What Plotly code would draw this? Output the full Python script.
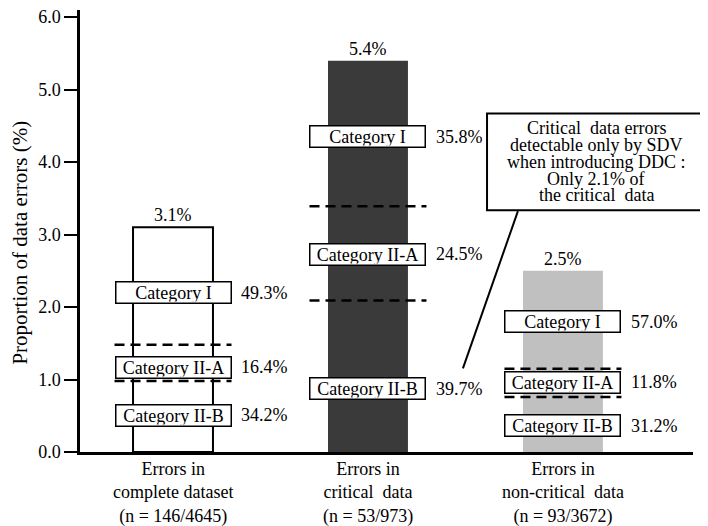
import plotly.graph_objects as go

NB = "\u00a0"  # the source uses a double gap in a few labels
groups = ["Errors in<br>complete dataset<br>(n = 146/4645)",
          f"Errors in<br>critical{NB} data<br>(n = 53/973)",
          f"Errors in<br>non-critical{NB} data<br>(n = 93/3672)"]
totals = [3.1, 5.4, 2.5]
categories = ["Category I", "Category II-A", "Category II-B"]
shares = [[49.3, 16.4, 34.2],
          [35.8, 24.5, 39.7],
          [57.0, 11.8, 31.2]]
# where the boxed labels and dashed separators sit (in %)
label_y = [[2.2, 1.17, 0.51], [4.35, 2.73, 0.87], [1.8, 0.96, 0.36]]
dash_y = [[0.98, 1.48], [2.09, 3.39], [0.76, 1.15]]
note_lines = [f"Critical{NB} data errors", "detectable only by SDV",
              "when introducing DDC :", "Only 2.1% of", f"the critical{NB} data"]

FONT = "Liberation Serif"
x = list(range(len(totals)))


def f(size=18):
    return dict(family=FONT, size=size, color="black")


fig = go.Figure()
fig.add_trace(go.Bar(
    x=x, y=totals, width=0.41,
    marker=dict(color=["white", "#3a3a3a", "#c0c0c0"],
                line=dict(color="black", width=[2, 0, 0])),
    hoverinfo="skip", showlegend=False))

for i, tot in enumerate(totals):
    fig.add_annotation(x=i, y=tot, text=f"{tot}%", showarrow=False,
                       yanchor="bottom", yshift=0, font=f())
    for yv in dash_y[i]:
        fig.add_shape(type="line", x0=i - 0.3, x1=i + 0.3, y0=yv, y1=yv,
                      line=dict(color="black", width=2.5, dash="10px,6px"))
    for cat, s, yv in zip(categories, shares[i], label_y[i]):
        fig.add_annotation(x=i, y=yv, text=cat, showarrow=False,
                           bgcolor="white", bordercolor="black", borderwidth=1.5,
                           borderpad=1, width=112, height=18, font=f())
        fig.add_annotation(x=i, y=yv, text=f"{s:.1f}%", showarrow=False,
                           xanchor="left", xshift=66, font=f())
    fig.add_annotation(x=i, y=0, text=groups[i], showarrow=False,
                       yanchor="top", yshift=-5, font=f())

# callout box
fig.add_shape(type="rect", xref="paper", yref="paper",
              x0=0.664, x1=1.019, y0=0.547, y1=0.766,
              line=dict(color="black", width=2), fillcolor="white")
for k, line in enumerate(note_lines):
    fig.add_annotation(xref="paper", yref="paper", x=0.842, y=0.6566,
                       xanchor="center", yanchor="middle",
                       text=line, showarrow=False,
                       yshift=(2 - k) * 16.8, font=f())
fig.add_shape(type="line", x0=1.769, y0=3.324, x1=1.487, y1=1.154,
              line=dict(color="black", width=2))

# y axis title as a rotated annotation (sits a bit below the axis middle)
fig.add_annotation(xref="paper", x=0, y=2.89, xanchor="center", xshift=-60,
                   text="Proportion of data errors (%)", textangle=-90,
                   showarrow=False, font=f(21))

# page adds an 8px body margin, so the figure is 8px smaller each way
fig.update_layout(
    width=700, height=518,
    margin=dict(l=72, r=15, t=0, b=74),
    plot_bgcolor="white", paper_bgcolor="white",
    font=f(),
    xaxis=dict(range=[-0.477, 2.667], showline=True, linecolor="black",
               linewidth=2.5, showticklabels=False, ticks="",
               showgrid=False, zeroline=False, fixedrange=True),
    yaxis=dict(range=[0, 6.099], tickvals=[0, 1, 2, 3, 4, 5, 6],
               tickformat=".1f", showline=True, linecolor="black",
               linewidth=2.5, ticks="outside", ticklen=13, tickwidth=2,
               tickcolor="black", showgrid=False, zeroline=False,
               ticklabeloverflow="allow", tickfont=f()),
)

fig.write_html("out.html")
